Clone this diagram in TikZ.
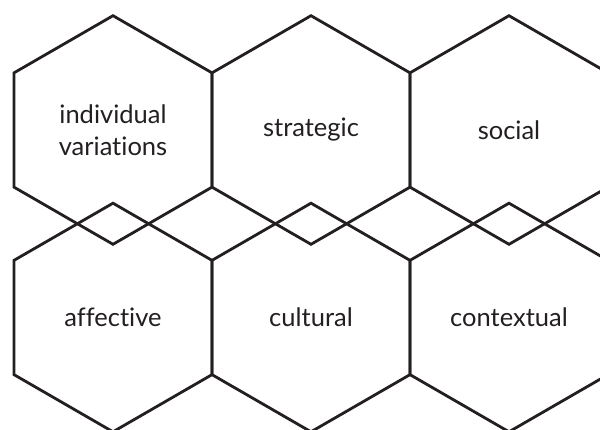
\documentclass[tikz,border=0pt]{standalone}
\usepackage{fontspec}
\setmainfont{Lato}[Ligatures={NoCommon,NoRare}]
\usetikzlibrary{shapes,positioning}

\definecolor{ink}{HTML}{231F20}

\begin{document}
\begin{tikzpicture}[
          x=1pt,y=-1pt,
          cell/.style={draw=ink,regular polygon,regular polygon sides=6,shape border rotate=30,
                       minimum size=228.6pt,inner sep=0pt,line width=2.8pt,
                       align=center,text=ink,font=\fontsize{25.5}{32}\selectfont},
          row/.style={cell,node distance=198pt},
          col/.style={cell,node distance=187.5pt}
        ]
        \useasboundingbox (0,0) rectangle (600,430);
        \clip (0,0) rectangle (600,430);

        %upper row
        \node[cell] (0) at (113,130) {individual\\variations};
        \node[right of = 0,row] (1) {strategic};
        \node[right of = 1,row] (2) {social};

        %lower row
        \node[below of = 0,col] (3) {affective};
        \node[right of = 3,row] (4) {cultural};
        \node[right of = 4,row] (5) {contextual};
    \end{tikzpicture}
\end{document}
